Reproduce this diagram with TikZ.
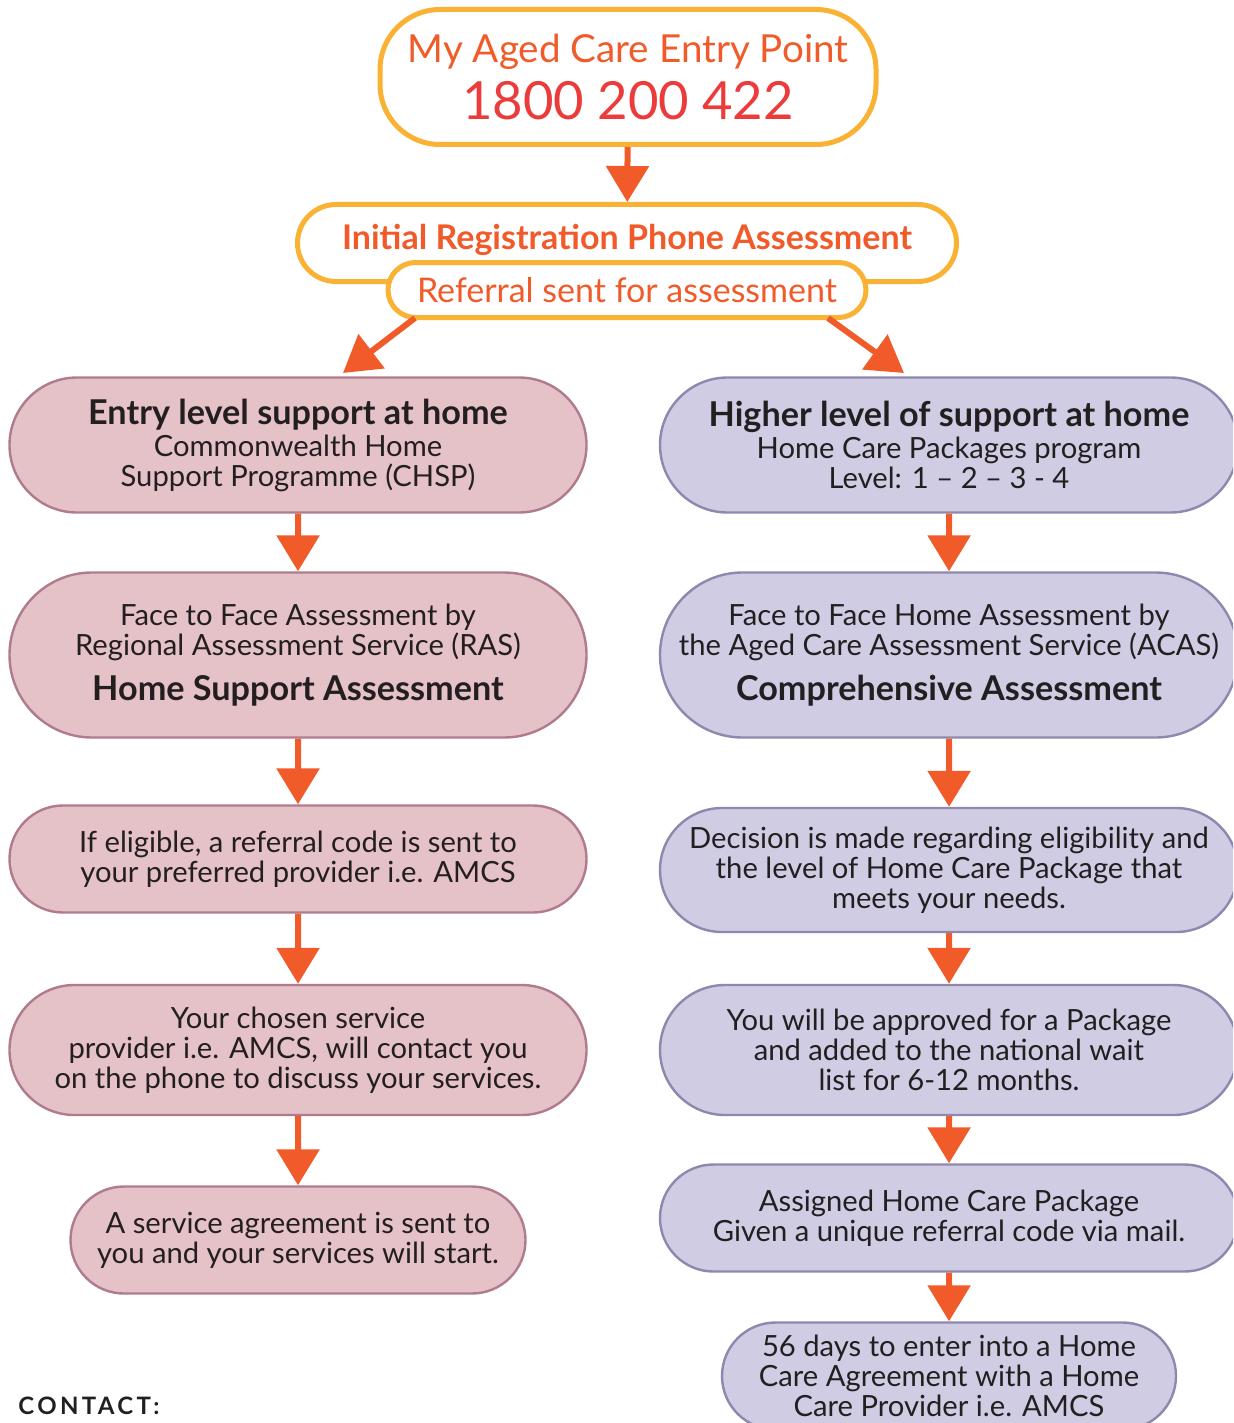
\documentclass[tikz,border=0pt]{standalone}
\usepackage{fontspec}
\setmainfont{Lato}
\usetikzlibrary{arrows.meta,shapes.misc,positioning}
\definecolor{ringorange}{HTML}{F9B233}
\definecolor{flowred}{HTML}{F15A29}
\definecolor{numred}{HTML}{EC3B3B}
\definecolor{inkdark}{HTML}{231F20}
\definecolor{pinkfill}{HTML}{E5C1C8}
\definecolor{pinkline}{HTML}{B07B8C}
\definecolor{lilacfill}{HTML}{D0CCE4}
\definecolor{lilacline}{HTML}{8E88AE}

\newcommand{\txt}{\fontsize{14.6}{15}\selectfont}
\newcommand{\head}{\bfseries\fontsize{17.1}{17}\selectfont}

\begin{document}
\begin{tikzpicture}[
    x=0.5pt, y=-0.5pt,
    every node/.style={
        align=center,
        inner sep=0pt,
        text=inkdark,
        font=\txt
    },
    pinkbox/.style={rounded rectangle, draw=pinkline, fill=pinkfill,
        line width=1.2pt, minimum width=288.5pt},
    lilacbox/.style={rounded rectangle, draw=lilacline, fill=lilacfill,
        line width=1.2pt, minimum width=289pt},
    ringbox/.style={draw=ringorange, fill=white, line width=2.5pt},
    flow/.style={draw=flowred, line width=3pt,
        -{Triangle[length=18pt,width=21pt]}}
]
\clip (0,0) rectangle (1233,1423);

% top of the chart
\node[ringbox, rectangle, rounded corners=30pt,
      minimum width=248pt, minimum height=67.5pt] (entry) at (628,77)
    {\color{flowred}\fontsize{19.3}{21}\selectfont My Aged Care Entry Point\\[5pt]
     \color{numred}\fontsize{26.3}{27}\selectfont 1800 200 422};
\node[ringbox, rounded rectangle, minimum width=329.5pt,
      minimum height=38.5pt] (phone) at (627,243) {};
\node[text=flowred, font=\bfseries\fontsize{17}{18}\selectfont]
    (phonetxt) at (627,240) {Initial Registration Phone Assessment};
\node[ringbox, rounded rectangle, minimum width=239pt,
      minimum height=27.5pt, text=flowred,
      font=\fontsize{17}{18}\selectfont] (referral) at (627,290)
    {Referral sent for assessment};

% left column
\node[pinkbox, minimum height=67.5pt] (chsp) at (298,445)
    {{\head Entry level support at home}\\[1pt]
     Commonwealth Home\\ Support Programme (CHSP)};
\node[pinkbox, minimum height=82.5pt] (ras) at (298,655)
    {Face to Face Assessment by\\ Regional Assessment Service (RAS)\\[6pt]
     {\head Home Support Assessment}};
\node[pinkbox, minimum height=53.5pt] (code) at (298,859)
    {If eligible, a referral code is sent to\\ your preferred provider i.e. AMCS};
\node[pinkbox, minimum height=65pt] (chosen) at (298,1050)
    {Your chosen service\\ provider i.e. AMCS, will contact you\\
     on the phone to discuss your services.};
\node[pinkbox, minimum width=227.5pt, minimum height=53.5pt] (start) at (298,1240)
    {A service agreement is sent to\\ you and your services will start.};

% right column
\node[lilacbox, minimum height=67.5pt] (hcp) at (949,445)
    {{\head Higher level of support at home}\\[1pt]
     Home Care Packages program\\ Level: 1 – 2 – 3 - 4};
\node[lilacbox, minimum height=82.5pt] (acas) at (949,655)
    {Face to Face Home Assessment by\\ the Aged Care Assessment Service (ACAS)\\[6pt]
     {\head Comprehensive Assessment}};
\node[lilacbox, minimum height=62pt] (decision) at (949,870)
    {Decision is made regarding eligibility and\\ the level of Home Care Package that\\
     meets your needs.};
\node[lilacbox, minimum height=65pt] (approved) at (949,1050)
    {You will be approved for a Package\\ and added to the national wait\\
     list for 6-12 months.};
\node[lilacbox, minimum height=53.5pt] (assigned) at (949,1218)
    {Assigned Home Care Package\\ Given a unique referral code via mail.};
\node[lilacbox, minimum width=227pt, minimum height=53.5pt] (agreement) at (949,1376)
    {56 days to enter into a Home\\ Care Agreement with a Home\\ Care Provider i.e. AMCS};

\node[anchor=west, font=\bfseries\fontsize{12}{14}\selectfont] (contact) at (18,1406)
    {\addfontfeatures{LetterSpace=14}CONTACT:};

% arrows
\coordinate (lfoot) at (415,318);
\coordinate (ltip) at (343,373);
\coordinate (rfoot) at (828,318);
\coordinate (rtip) at (904,373);
\draw[flow] (entry) -- (phone);
\draw[flow] (lfoot) -- (ltip);
\draw[flow] (rfoot) -- (rtip);
\draw[flow] (chsp) -- (ras);
\draw[flow] (ras) -- (code);
\draw[flow] (code) -- (chosen);
\draw[flow] (chosen) -- (start);
\draw[flow] (hcp) -- (acas);
\draw[flow] (acas) -- (decision);
\draw[flow] (decision) -- (approved);
\draw[flow] (approved) -- (assigned);
\draw[flow] (assigned) -- (agreement);
\end{tikzpicture}
\end{document}
